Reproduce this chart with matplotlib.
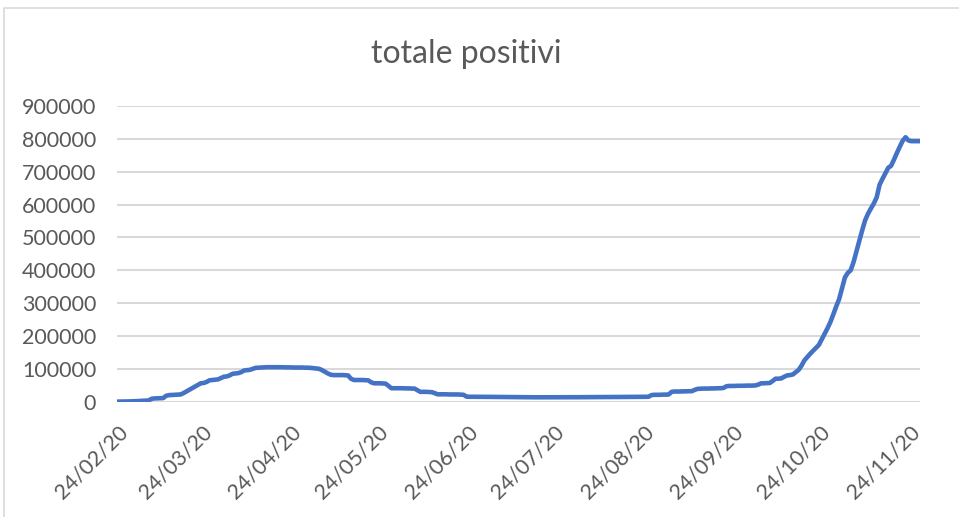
import matplotlib
matplotlib.use("Agg")
import matplotlib.pyplot as plt
import matplotlib.dates as mdates
from matplotlib.lines import Line2D
import pandas as pd

title = "totale positivi"
start_date = "2020-02-24"

# daily values (24/02/20 .. 28/11/20)
feb = [221, 311, 385, 588, 821, 1049]
mar = [1577, 1835, 2263, 2706, 3296, 3916, 9000, 10000, 10300, 10600, 11000,
       18000, 20000, 20500, 21000, 21500, 22000, 26000, 31000, 36000, 41000,
       46000, 51000, 56000, 57000, 60000, 65000, 66000, 67000, 68000, 72000]
apr = [76000, 77000, 80000, 85000, 86000, 87000, 90000, 95000, 96000, 97000,
       100000, 103000, 103500, 104000, 104500, 105000, 105000, 105000, 105000,
       105000, 105000, 104500, 104500, 104500, 104000, 104000, 104000, 104000,
       103500, 103500]
may = [103000, 102000, 101000, 100000, 96000, 91000, 86000, 82000, 81000, 81000,
       81000, 81000, 80500, 80000, 70000, 66000, 66000, 66000, 66000, 65500,
       65000, 59000, 56000, 56000, 56000, 55500, 55000, 48000, 41000, 41000, 41000]
jun = [41000, 41000, 40500, 40500, 40000, 40000, 35000, 30000, 30000, 30000,
       29500, 29000, 26000, 22500, 22500, 22500, 22500, 22000, 22000, 22000,
       22000, 21500, 21000, 15500, 15000, 15000, 15000, 15000, 15000, 14800]
jul = [14800, 14700, 14600, 14500, 14400, 14300, 14200, 14100, 14000, 14000,
       13900, 13800, 13700, 13600, 13500, 13500, 13500, 13400, 13400, 13400,
       13400, 13400, 13400, 13400, 13500, 13500, 13500, 13500, 13600, 13600, 13600]
aug = [13700, 13700, 13800, 13800, 13900, 13900, 14000, 14000, 14100, 14100,
       14200, 14200, 14300, 14300, 14400, 14400, 14500, 14500, 14600, 14600,
       14700, 14700, 14800, 14800, 14900, 15000, 20000, 21000, 21000, 21000, 21500]
sep = [21500, 22000, 30000, 31000, 31000, 31000, 31500, 31500, 32000, 32000,
       36000, 39000, 39500, 40000, 40000, 40000, 40500, 40500, 41000, 41000,
       42000, 47000, 48000, 48000, 48000, 48500, 48500, 48500, 49000, 49000]
oct_ = [49000, 49500, 52000, 56000, 56000, 56500, 57000, 63000, 70000, 70000,
        71000, 76000, 80000, 81000, 83000, 90000, 97000, 110000, 126000, 136000,
        146000, 155000, 164000, 173000, 190000, 207000, 224000, 243000, 266000,
        290000, 312000]
nov = [345000, 378000, 392000, 400000, 425000, 458000, 490000, 522000, 552000,
       572000, 588000, 603000, 622000, 660000, 678000, 695000, 712000, 718000,
       737000, 757000, 776000, 794000, 805000, 795000, 793000, 793000, 793000, 793000]

values = feb + mar + apr + may + jun + jul + aug + sep + oct_ + nov
dates = pd.date_range(start_date, periods=len(values), freq="D")

tick_dates = ["2020-02-24", "2020-03-24", "2020-04-24", "2020-05-24", "2020-06-24",
              "2020-07-24", "2020-08-24", "2020-09-24", "2020-10-24", "2020-11-24"]
tick_labels = ["24/02/20", "24/03/20", "24/04/20", "24/05/20", "24/06/20",
               "24/07/20", "24/08/20", "24/09/20", "24/10/20", "24/11/20"]
y_ticks = [0, 100000, 200000, 300000, 400000, 500000, 600000, 700000, 800000, 900000]

W, H = 959, 517
fig = plt.figure(figsize=(W / 100, H / 100), dpi=100)
plt.rcParams['font.family'] = ['Lato', 'DejaVu Sans']
text_color = "#595959"
grid_color = "#D9D9D9"

# chart border (partly cut off on right/bottom)
fig.add_artist(Line2D([4 / W, 4 / W, 1.0], [0.0, 1 - 7.5 / H, 1 - 7.5 / H],
                      transform=fig.transFigure, color=grid_color, lw=1.2))

left, right = 117 / W, 920 / W
bottom, top = 1 - 401.7 / H, 1 - 106 / H
ax = fig.add_axes([left, bottom, right - left, top - bottom])

ax.plot(dates, values, color="#4472C4", lw=3.3, solid_joinstyle="round",
        solid_capstyle="round", zorder=3)

ax.set_xlim(dates[0], dates[-1])
ax.set_ylim(0, 900000)
ax.set_yticks(y_ticks)
ax.set_yticklabels([str(v) for v in y_ticks], fontsize=15.5, color=text_color)
ax.tick_params(axis="y", length=0, pad=15)
ax.yaxis.grid(True, color=grid_color, lw=1.5)
ax.set_axisbelow(True)
for s in ax.spines.values():
    s.set_visible(False)

ax.set_xticks([])
trans = ax.get_xaxis_transform()
for d, lab in zip(tick_dates, tick_labels):
    ax.annotate(lab, xy=(mdates.date2num(pd.Timestamp(d)), 0), xycoords=trans,
                xytext=(8, -27), textcoords="offset pixels",
                rotation=45, rotation_mode="anchor", ha="right", va="center",
                fontsize=15.5, color=text_color, annotation_clip=False)

fig.text(466 / W, 1 - 63 / H, title, ha="center", va="baseline",
         fontsize=23, color=text_color)

fig.savefig("out.png", dpi=100)
